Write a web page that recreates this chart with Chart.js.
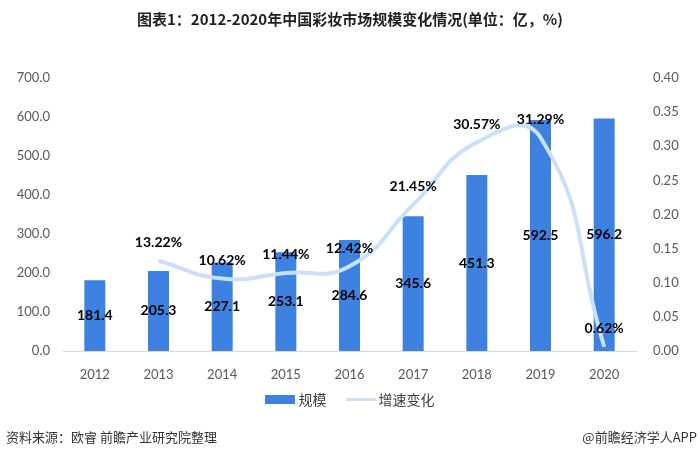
<!DOCTYPE html>
<html>
<head>
<meta charset="utf-8">
<script src="https://cdn.jsdelivr.net/npm/chart.js@4"></script>
<style>
  body { margin: 0; background: #fff; }
  #wrap { position: relative; width: 700px; height: 456px; overflow: hidden; }
  #myChart { position: absolute; left: 0; top: 0; }
  .title { position: absolute; top: 8px; left: 0; width: 700px; text-align: center;
    font: bold 15px "Noto Sans CJK SC"; color: #1f1f1f; }
  .legend { position: absolute; top: 387px; left: 0; width: 700px; text-align: center;
    font: 14px "Noto Sans CJK SC"; color: #404040; }
  .legend span { display: inline-block; vertical-align: middle; }
  .foot { position: absolute; top: 427px; font: 13px "Noto Sans CJK SC"; color: #333; }
</style>
</head>
<body>
<div id="wrap">
  <canvas id="myChart" width="700" height="456"></canvas>
  <div class="title">图表1：2012-2020年中国彩妆市场规模变化情况(单位：亿，%)</div>
  <div class="legend">
    <span style="width:30px;height:9px;background:#3D82E0;margin-right:3px"></span><span>规模</span>
    <span style="width:30px;height:3px;background:#C9E0F8;margin:0 3px 0 16px"></span><span>增速变化</span>
  </div>
  <div class="foot" style="left:6px">资料来源：欧睿 前瞻产业研究院整理</div>
  <div class="foot" style="right:3px">@前瞻经济学人APP</div>
</div>
<script>
// 数据
const years = ['2012', '2013', '2014', '2015', '2016', '2017', '2018', '2019', '2020'];
const scaleValues = [181.4, 205.3, 227.1, 253.1, 284.6, 345.6, 451.3, 592.5, 596.2];
const growthValues = [null, 0.1322, 0.1062, 0.1144, 0.1242, 0.2145, 0.3057, 0.3129, 0.0062];

// 数据标签插件
const valueLabels = {
  id: 'valueLabels',
  afterDatasetsDraw(chart) {
    const ctx = chart.ctx;
    ctx.save();
    ctx.fillStyle = '#000';
    ctx.font = 'bold 14px Lato';
    ctx.textAlign = 'center';
    ctx.textBaseline = 'middle';
    chart.getDatasetMeta(1).data.forEach((bar, i) => {
      const mid = (bar.y + bar.base) / 2;
      ctx.fillText(scaleValues[i].toFixed(1), bar.x, mid);
    });
    chart.getDatasetMeta(0).data.forEach((pt, i) => {
      if (growthValues[i] == null) return;
      ctx.fillText((growthValues[i] * 100).toFixed(2) + '%', pt.x, pt.y - 18);
    });
    ctx.restore();
  }
};

const tickFont = { family: 'Lato', size: 13 };

new Chart('myChart', {
  data: {
    labels: years,
    datasets: [{
      type: 'line',
      label: '增速变化',
      data: growthValues,
      yAxisID: 'y1',
      borderColor: '#C9E0F8',
      borderWidth: 4,
      pointRadius: 0,
      tension: 0.5,
      order: 1
    }, {
      type: 'bar',
      label: '规模',
      data: scaleValues,
      yAxisID: 'y',
      backgroundColor: '#3D82E0',
      categoryPercentage: 1,
      barPercentage: 0.33,
      order: 2
    }]
  },
  options: {
    responsive: false,
    animation: false,
    layout: { padding: { top: 78, bottom: 75, left: 0, right: 0 } },
    plugins: { legend: { display: false }, title: { display: false }, tooltip: { enabled: false } },
    scales: {
      x: {
        grid: { display: false },
        border: { color: '#D9D9D9', width: 1 },
        ticks: { color: '#595959', font: tickFont, padding: 8, maxRotation: 0 },
        afterFit(s) { s.height = 30; }
      },
      y: {
        position: 'left',
        min: 0, max: 700,
        grid: { display: false, drawTicks: false },
        border: { display: false },
        ticks: { stepSize: 100, color: '#595959', font: tickFont, padding: 13,
          callback: v => v.toFixed(1) },
        afterFit(s) { s.width = 63; }
      },
      y1: {
        position: 'right',
        min: 0, max: 0.4,
        grid: { display: false, drawTicks: false },
        border: { display: false },
        ticks: { stepSize: 0.05, color: '#595959', font: tickFont, padding: 17,
          callback: v => v.toFixed(2) },
        afterFit(s) { s.width = 64; }
      }
    }
  },
  plugins: [valueLabels]
});
</script>
</body>
</html>
